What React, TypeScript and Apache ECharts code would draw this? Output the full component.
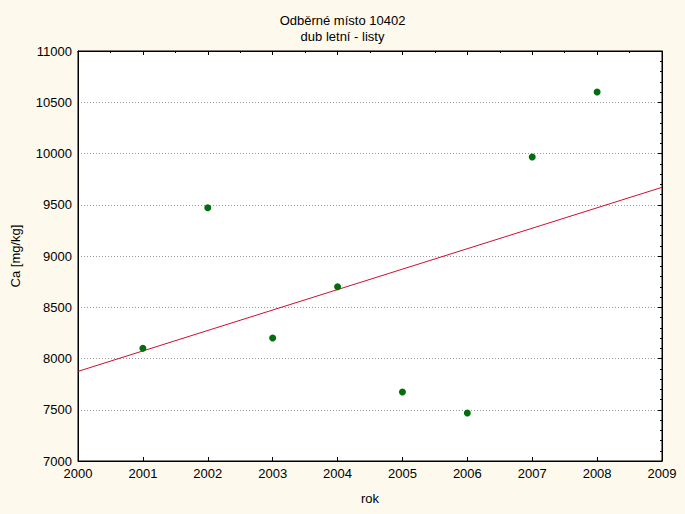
import React, { useEffect, useRef } from "react";
import * as echarts from "echarts";

const titleLines = ["Odběrné místo 10402", "dub letní - listy"];
const xName = "rok";
const yName = "Ca [mg/kg]";
const years = [2001, 2002, 2003, 2004, 2005, 2006, 2007, 2008];
const caValues = [8100, 9470, 8200, 8700, 7673, 7468, 9966, 10600];
const xRange = [2000, 2009];
const yRange = [7000, 11000];

function fitLine() {
  const n = years.length;
  const mx = years.reduce((a, b) => a + b, 0) / n;
  const my = caValues.reduce((a, b) => a + b, 0) / n;
  let sxy = 0, sxx = 0;
  for (let i = 0; i < n; i++) {
    sxy += (years[i] - mx) * (caValues[i] - my);
    sxx += (years[i] - mx) * (years[i] - mx);
  }
  const b = sxy / sxx;
  const a = my - b * mx;
  return xRange.map((x) => [x, a + b * x]);
}

const FONT = "Liberation Sans, Arial, sans-serif";

export default function App() {
  const ref = useRef<HTMLDivElement>(null);
  useEffect(() => {
    document.body.style.margin = "0";
    const chart = echarts.init(ref.current!, undefined, { renderer: "svg" });
    const axisText = { color: "#000", fontFamily: FONT, fontSize: 13 };
    chart.setOption({
      animation: false,
      backgroundColor: "#FDF9EC",
      title: {
        text: titleLines.join("\n"),
        left: "center",
        top: 7,
        textStyle: { ...axisText, fontWeight: "normal", lineHeight: 16 },
      },
      grid: {
        left: 78,
        right: 23,
        top: 51,
        bottom: 53,
        show: true,
        backgroundColor: "#fff",
        borderColor: "#000",
        borderWidth: 1,
      },
      xAxis: [
        {
          type: "value",
          min: xRange[0],
          max: xRange[1],
          interval: 1,
          name: xName,
          nameLocation: "middle",
          nameGap: 31,
          nameTextStyle: axisText,
          axisLine: { lineStyle: { color: "#000" } },
          axisTick: { inside: true, length: 4, lineStyle: { color: "#000" } },
          axisLabel: { ...axisText, margin: 6, formatter: (v: number) => String(v) },
          splitLine: { show: false },
        },
        {
          type: "value",
          position: "top",
          min: xRange[0],
          max: xRange[1],
          interval: 1,
          axisLine: { lineStyle: { color: "#000" } },
          axisTick: { inside: true, length: 4, lineStyle: { color: "#000" } },
          minorTick: { show: true, splitNumber: 2, length: 2, lineStyle: { color: "#000" } },
          axisLabel: { show: false },
          splitLine: { show: false },
        },
      ],
      yAxis: [
        {
          type: "value",
          min: yRange[0],
          max: yRange[1],
          interval: 500,
          name: yName,
          nameLocation: "middle",
          nameGap: 56,
          nameTextStyle: axisText,
          axisLine: { lineStyle: { color: "#000" } },
          axisTick: { show: false },
          axisLabel: { ...axisText, margin: 6, formatter: (v: number) => String(v) },
          splitLine: { show: true, lineStyle: { color: "#999", type: [1, 2], width: 1 } },
        },
        {
          type: "value",
          position: "right",
          min: yRange[0],
          max: yRange[1],
          interval: 500,
          axisLine: { lineStyle: { color: "#000" } },
          axisTick: { inside: true, length: 4, lineStyle: { color: "#000" } },
          minorTick: { show: true, splitNumber: 5, length: 2, lineStyle: { color: "#000" } },
          axisLabel: { show: false },
          splitLine: { show: false },
        },
      ],
      series: [
        {
          type: "line",
          data: fitLine(),
          showSymbol: false,
          symbol: "none",
          lineStyle: { color: "#CC1030", width: 1 },
          z: 2,
        },
        {
          type: "scatter",
          data: years.map((y, i) => [y, caValues[i]]),
          symbol: "circle",
          symbolSize: 7,
          itemStyle: { color: "#006E0A", opacity: 1 },
          z: 3,
        },
      ],
    });
    return () => chart.dispose();
  }, []);
  return <div ref={ref} style={{ width: 685, height: 514 }} />;
}
